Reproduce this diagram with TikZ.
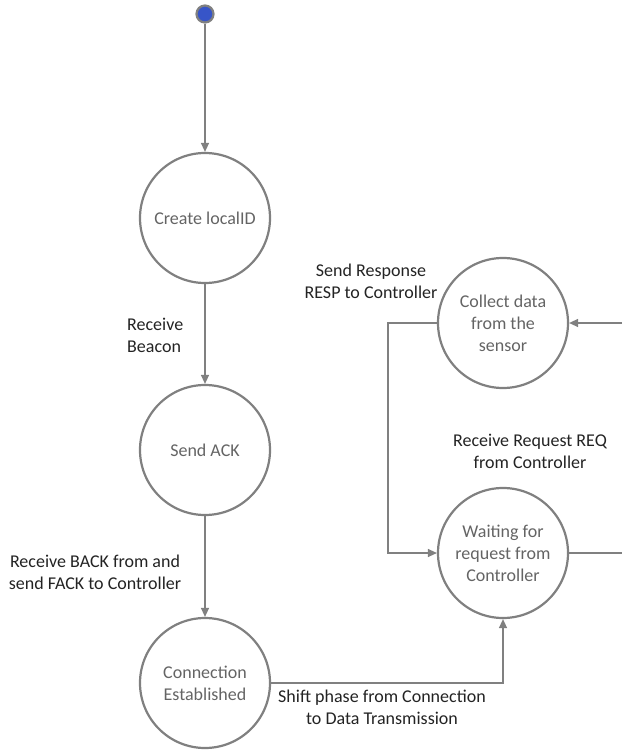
\documentclass[tikz,border=0pt]{standalone}
\usepackage{fontspec}
\setmainfont{Carlito}
\usetikzlibrary{arrows.meta}
\definecolor{stategray}{RGB}{128,128,128}
\definecolor{linegray}{RGB}{128,128,128}
\definecolor{textgray}{RGB}{100,100,100}
\definecolor{labelcol}{RGB}{35,35,35}
\definecolor{dotblue}{RGB}{55,85,200}
\begin{document}
\begin{tikzpicture}[x=1pt,y=-1pt,
  state/.style={circle,draw=stategray,line width=2.2pt,minimum size=130pt,inner sep=0pt,align=center,text=textgray,font=\fontsize{18}{22}\selectfont},
  lbl/.style={text=labelcol,font=\fontsize{18}{22}\selectfont,inner sep=0pt},
  conn/.style={draw=linegray,line width=1.3pt,-{Triangle[length=9pt,width=8pt]}},
  plain/.style={draw=linegray,line width=1.3pt},
  startdot/.style={circle,draw=stategray,line width=2.2pt,fill=dotblue,minimum size=17pt,inner sep=0pt}]
\useasboundingbox (0,0) rectangle (622,751);
\node[startdot] (start) at (205,14) {};
\node[state] (create) at (205,218) {Create localID};
\node[state] (ack) at (205,450) {Send ACK};
\node[state] (conn) at (205,683) {Connection\\Established};
\node[state] (collect) at (503,323) {Collect data\\from the\\sensor};
\node[state] (wait) at (503,553) {Waiting for\\request from\\Controller};
\coordinate (rin) at (622,323);
\coordinate (rout) at (622,553);
\draw[conn] (start) -- (create);
\draw[conn] (create) -- (ack);
\draw[conn] (ack) -- (conn);
\draw[conn] (conn.east) -| (wait.south);
\draw[conn] (collect.west) -- ++(-49,0) |- (wait.west);
\draw[conn] (rin) -- (collect.east);
\draw[plain] (wait.east) -- (rout);
\node[lbl,align=left,anchor=west] (lbeacon) at (127,335) {Receive\\Beacon};
\node[lbl,align=center] (lback) at (95,572) {Receive BACK from and\\send FACK to Controller};
\node[lbl,align=center] (lresp) at (371,281) {Send Response\\RESP to Controller};
\node[lbl,align=center] (lreq) at (530,451) {Receive Request REQ\\from Controller};
\node[lbl,align=center] (lshift) at (382,707) {Shift phase from Connection\\to Data Transmission};
\end{tikzpicture}
\end{document}
